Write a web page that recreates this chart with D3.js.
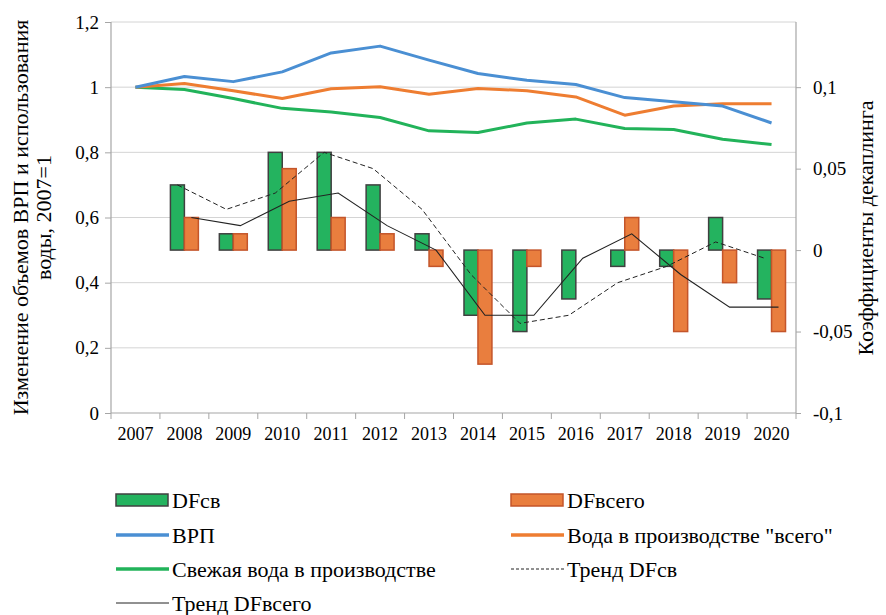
<!DOCTYPE html>
<html><head><meta charset="utf-8"><script src="https://cdn.jsdelivr.net/npm/d3@7"></script></head>
<body style="margin:0">
<script>
// chart data
const years = ["2007","2008","2009","2010","2011","2012","2013","2014","2015","2016","2017","2018","2019","2020"];
const grp = [1.0, 1.033, 1.017, 1.047, 1.105, 1.126, 1.083, 1.042, 1.021, 1.008, 0.968, 0.955, 0.942, 0.89];
const waterTotal = [1.0, 1.011, 0.989, 0.965, 0.995, 1.001, 0.978, 0.996, 0.989, 0.97, 0.914, 0.942, 0.949, 0.949];
const waterFresh = [1.0, 0.993, 0.965, 0.935, 0.924, 0.907, 0.866, 0.861, 0.89, 0.902, 0.873, 0.87, 0.84, 0.824];
// decoupling coefficients, from 2008
const dfSv = [null, 0.04, 0.01, 0.06, 0.06, 0.04, 0.01, -0.04, -0.05, -0.03, -0.01, -0.01, 0.02, -0.03];
const dfTotal = [null, 0.02, 0.01, 0.05, 0.02, 0.01, -0.01, -0.07, -0.01, 0, 0.02, -0.05, -0.02, -0.05];
const trendSv = [null, 0.04, 0.025, 0.035, 0.06, 0.05, 0.025, -0.015, -0.045, -0.04, -0.02, -0.01, 0.005, -0.005];
const trendTotal = [null, 0.02, 0.015, 0.03, 0.035, 0.015, 0.0, -0.04, -0.04, -0.005, 0.01, -0.015, -0.035, -0.035];
const leftTicks = [0, 0.2, 0.4, 0.6, 0.8, 1, 1.2];
const rightTicks = [-0.1, -0.05, 0, 0.05, 0.1];

const width = 886, height = 615;
const pLeft = 111, pRight = 796, pTop = 22, pBottom = 413;

const svg = d3.select("body").append("svg")
    .attr("width", width)
    .attr("height", height);

const x = d3.scaleBand().domain(years).range([pLeft, pRight]).padding(0);
const sub = d3.scaleBand().domain(["sv", "total"]).range([0, x.bandwidth()])
    .paddingInner(0).paddingOuter(0.75);
const yL = d3.scaleLinear().domain([0, 1.2]).range([pBottom, pTop]);
const yR = d3.scaleLinear().domain([-0.1, 0.14]).range([pBottom, pTop]);

const comma = d => String(+d.toFixed(2)).replace(".", ",");

// gridlines
svg.append("g").selectAll("line")
    .data(leftTicks.slice(1))
    .enter().append("line")
    .attr("x1", pLeft).attr("x2", pRight)
    .attr("y1", d => yL(d)).attr("y2", d => yL(d))
    .attr("stroke", "#d4d4d4").attr("stroke-width", 1);

// axes
const axisColor = "#a6a6a6";
const gL = svg.append("g").attr("transform", `translate(${pLeft},0)`)
    .call(d3.axisLeft(yL).tickValues(leftTicks).tickFormat(comma).tickSize(6).tickPadding(6));
const gR = svg.append("g").attr("transform", `translate(${pRight},0)`)
    .call(d3.axisRight(yR).tickValues(rightTicks).tickFormat(comma).tickSize(5).tickPadding(12));
const gX = svg.append("g").attr("transform", `translate(0,${pBottom})`)
    .call(d3.axisBottom(x).tickSize(0).tickPadding(14));

[gL, gR, gX].forEach(g => {
    g.select(".domain").attr("stroke", axisColor).attr("stroke-width", 1.2);
    g.selectAll(".tick line").attr("stroke", axisColor);
    g.selectAll("text").attr("font-size", 19).attr("fill", "#000");
});
gR.select(".domain").attr("d", `M0,${pTop}V${pBottom}`);
gL.select(".domain").attr("d", `M0,${pTop}V${pBottom}`);
gX.select(".domain").attr("d", `M${pLeft},0H${pRight}`);
gX.selectAll(".tick text").attr("dy", "0.71em").attr("font-size", 18);

// x ticks at band boundaries
gX.append("g").selectAll("line")
    .data(years.concat(["end"]))
    .enter().append("line")
    .attr("x1", (d, i) => pLeft + i * x.step()).attr("x2", (d, i) => pLeft + i * x.step())
    .attr("y1", 0).attr("y2", 6)
    .attr("stroke", axisColor);

// bars
const barData = [];
years.forEach((yr, i) => {
    if (dfSv[i] !== null) barData.push({ yr, key: "sv", v: dfSv[i] });
    if (dfTotal[i] !== null) barData.push({ yr, key: "total", v: dfTotal[i] });
});
svg.append("g").selectAll("rect")
    .data(barData.filter(d => d.v !== 0))
    .enter().append("rect")
    .attr("x", d => x(d.yr) + sub(d.key))
    .attr("width", sub.bandwidth())
    .attr("y", d => yR(Math.max(0, d.v)))
    .attr("height", d => Math.abs(yR(d.v) - yR(0)))
    .attr("fill", d => d.key === "sv" ? "#24b35f" : "#e97e3e")
    .attr("stroke", d => d.key === "sv" ? "#404040" : "#c4552a")
    .attr("stroke-width", 1.5);

// trend lines
const trendSvLine = d3.line()
    .defined(d => d !== null)
    .x((d, i) => x(years[i]) + sub("sv") + sub.bandwidth() / 2)
    .y(d => yR(d));
const trendTotalLine = d3.line()
    .defined(d => d !== null)
    .x((d, i) => x(years[i]) + sub("total") + sub.bandwidth() / 2)
    .y(d => yR(d));

svg.append("path").datum(trendSv)
    .attr("d", trendSvLine)
    .attr("fill", "none").attr("stroke", "#222").attr("stroke-width", 1)
    .attr("stroke-dasharray", "5,3");
svg.append("path").datum(trendTotal)
    .attr("d", trendTotalLine)
    .attr("fill", "none").attr("stroke", "#222").attr("stroke-width", 1.1);

// main lines
const mainLine = d3.line()
    .x((d, i) => x(years[i]) + x.bandwidth() / 2)
    .y(d => yL(d));
const series = [
    { data: waterFresh, color: "#22b35a" },
    { data: waterTotal, color: "#ee7d31" },
    { data: grp, color: "#4a8fd3" }
];
series.forEach(s => {
    svg.append("path").datum(s.data)
        .attr("d", mainLine)
        .attr("fill", "none").attr("stroke", s.color).attr("stroke-width", 3)
        .attr("stroke-linejoin", "round");
});

// axis titles
svg.append("text")
    .attr("transform", `translate(28,${(pTop + pBottom) / 2}) rotate(-90)`)
    .attr("text-anchor", "middle").attr("font-size", 22)
    .text("Изменение объемов ВРП и использования");
svg.append("text")
    .attr("transform", `translate(51,${(pTop + pBottom) / 2}) rotate(-90)`)
    .attr("text-anchor", "middle").attr("font-size", 22)
    .text("воды, 2007=1");
svg.append("text")
    .attr("transform", `translate(873,228) rotate(-90)`)
    .attr("text-anchor", "middle").attr("font-size", 22)
    .text("Коэффициенты декаплинга");

// legend
const legendItems = [
    { label: "DFсв", type: "rect", fill: "#24b35f", stroke: "#404040", col: 0, row: 0 },
    { label: "DFвсего", type: "rect", fill: "#e97e3e", stroke: "#c4552a", col: 1, row: 0 },
    { label: "ВРП", type: "line", stroke: "#4a8fd3", w: 3.5, col: 0, row: 1 },
    { label: "Вода в производстве \"всего\"", type: "line", stroke: "#ee7d31", w: 3.5, col: 1, row: 1 },
    { label: "Свежая вода в производстве", type: "line", stroke: "#22b35a", w: 3.5, col: 0, row: 2 },
    { label: "Тренд DFсв", type: "line", stroke: "#222", w: 1, dash: "3,2", col: 1, row: 2 },
    { label: "Тренд DFвсего", type: "line", stroke: "#222", w: 1, col: 0, row: 3 }
];
const colX = [116, 511], rowY = [500, 535, 569, 603];
const legend = svg.selectAll(".legend")
    .data(legendItems)
    .enter().append("g")
    .attr("class", "legend")
    .attr("transform", d => `translate(${colX[d.col]},${rowY[d.row]})`);

legend.filter(d => d.type === "rect").append("rect")
    .attr("x", 0).attr("y", -6).attr("width", 52).attr("height", 12)
    .attr("fill", d => d.fill).attr("stroke", d => d.stroke).attr("stroke-width", 1.5);
legend.filter(d => d.type === "line").append("line")
    .attr("x1", 0).attr("x2", 53).attr("y1", 0).attr("y2", 0)
    .attr("stroke", d => d.stroke).attr("stroke-width", d => d.w)
    .attr("stroke-dasharray", d => d.dash || null);
legend.append("text")
    .attr("x", 56).attr("y", 0).attr("dy", "0.35em")
    .attr("font-size", 22)
    .text(d => d.label);

// serif font on every text element
svg.selectAll("g").attr("font-family", null);
svg.selectAll("text").style("font-family", d => "'Liberation Serif', monospace");
</script>
</body></html>
